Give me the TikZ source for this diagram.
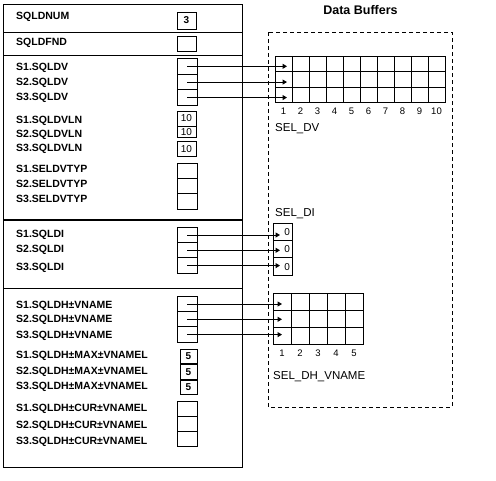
\documentclass[tikz,border=0pt]{standalone}
\usepackage{fontspec}
\setmainfont{Liberation Sans}
\usepackage{tikz}
\usetikzlibrary{positioning, arrows.meta}
\tikzstyle{lbl}=[%
      anchor=west, inner sep=0pt, text height=7.5pt, text depth=0pt,
      font=\fontsize{10.5}{12}\selectfont\bfseries
]
\tikzstyle{cell}=[%
      rectangle, draw=black, line width=1pt, fill=none, outer sep=0pt,
      minimum height=15.3pt, minimum width=20pt, inner sep=0pt,
      font=\fontsize{10}{12}\selectfont
]
\tikzstyle{bufcell}=[%
      rectangle, draw=black, line width=1pt, fill=none, outer sep=0pt,
      minimum height=15.6pt, minimum width=17pt, inner sep=0pt,
      font=\fontsize{10}{12}\selectfont
]
\tikzstyle{idx}=[%
      inner sep=0pt, text height=7pt, text depth=0pt,
      font=\fontsize{9.5}{11}\selectfont
]
\tikzstyle{bufname}=[%
      anchor=west, inner sep=0pt, text height=8pt, text depth=0pt,
      font=\fontsize{11.5}{13}\selectfont
]
\tikzstyle{ptr}=[%
      ->, line width=1pt
]

\begin{document}
\begin{tikzpicture}[x=1pt, y=-1pt,
    >={Triangle[length=4.5pt,width=5pt]}
  ]
    \useasboundingbox (0,0) rectangle (496,480);

    % SQLDA descriptor
    \draw[line width=1pt] (3,4) rectangle (242,467);
    \draw[line width=1pt] (3,32) -- (242,32);
    \draw[line width=1pt] (3,55) -- (242,55);
    \draw[line width=2pt] (3,220) -- (242,220);
    \draw[line width=1pt] (3,288) -- (242,288);

    \node[lbl] (sqldnum) at (16,15.5) {SQLDNUM};
    \node[lbl] (sqldfnd) at (16,41.7) {SQLDFND};
    \foreach \s/\y in {1/66.7, 2/81.7, 3/96.7}
      \node[lbl] (sqldv\s) at (16,\y) {S\s.SQLDV};
    \foreach \s/\y in {1/119.3, 2/133.3, 3/147.7}
      \node[lbl] (sqldvln\s) at (16,\y) {S\s.SQLDVLN};
    \foreach \s/\y in {1/169, 2/183.3, 3/199}
      \node[lbl] (seldvtyp\s) at (16,\y) {S\s.SELDVTYP};
    \foreach \s/\y in {1/233.3, 2/249, 3/266.5}
      \node[lbl] (sqldi\s) at (16,\y) {S\s.SQLDI};
    \foreach \s/\y in {1/304.3, 2/318.3, 3/334.3}
      \node[lbl] (vname\s) at (16,\y) {S\s.SQLDH±VNAME};
    \foreach \s/\y in {1/355, 2/370.5, 3/386}
      \node[lbl] (maxvnamel\s) at (16,\y) {S\s.SQLDH±MAX±VNAMEL};
    \foreach \s/\y in {1/408, 2/424.5, 3/441}
      \node[lbl] (curvnamel\s) at (16,\y) {S\s.SQLDH±CUR±VNAMEL};

    \node[cell, minimum width=19pt, minimum height=17pt, font=\fontsize{10}{12}\selectfont\bfseries] (num) at (186.5,20.5) {3};
    \node[cell, minimum width=19pt, minimum height=15.5pt] (fnd) at (186.5,44) {};

    \node[cell, minimum height=16pt] (dv1) at (187,66.3) {};
    \node[cell, minimum height=15.5pt] (dv2) [below = 0pt of dv1] {};
    \node[cell, minimum height=15.5pt] (dv3) [below = 0pt of dv2] {};

    \node[cell, minimum width=19pt, minimum height=15pt] (dvln1) at (186.5,118.5) {10};
    \node[cell, minimum width=19pt, minimum height=11.5pt] (dvln2) [below = 0pt of dvln1] {10};
    \node[cell, minimum width=19pt, minimum height=14.5pt] (dvln3) [below = 4pt of dvln2] {10};

    \node[cell] (typ1) at (187,171) {};
    \node[cell] (typ2) [below = 0pt of typ1] {};
    \node[cell] (typ3) [below = 0pt of typ2] {};

    \node[cell] (di1) at (187,235) {};
    \node[cell] (di2) [below = 0pt of di1] {};
    \node[cell] (di3) [below = 0pt of di2] {};

    \node[cell] (vn1) at (187,304) {};
    \node[cell] (vn2) [below = 0pt of vn1] {};
    \node[cell] (vn3) [below = 0pt of vn2] {};

    \node[cell, minimum width=17pt, minimum height=14.5pt, font=\fontsize{10}{12}\selectfont\bfseries] (max1) at (188.5,356.5) {5};
    \node[cell, minimum width=17pt, minimum height=14.5pt, font=\fontsize{10}{12}\selectfont\bfseries] (max2) [below = 1pt of max1] {5};
    \node[cell, minimum width=17pt, minimum height=14.5pt, font=\fontsize{10}{12}\selectfont\bfseries] (max3) [below = 1pt of max2] {5};

    \node[cell, minimum height=15pt] (cur1) at (187,408.5) {};
    \node[cell, minimum height=15pt] (cur2) [below = 0pt of cur1] {};
    \node[cell, minimum height=15pt] (cur3) [below = 0pt of cur2] {};

    % data buffers
    \node[font=\fontsize{12.5}{14}\selectfont\bfseries, inner sep=0pt] (title) at (360.5,10) {Data Buffers};
    \draw[line width=1pt, dash pattern=on 4pt off 3pt] (268,32) rectangle (452,407);

    \foreach \r in {1,2,3}
      \foreach \c in {1,...,10}
        \node[bufcell] (seldv\r-\c) at ({266.5+17*\c}, {48.2+15.6*\r}) {};
    \foreach \c in {1,...,10}
      \node[idx] (dvidx\c) [below = 4pt of seldv3-\c] {\c};
    \node[bufname] (seldvname) at (275,127) {SEL\_DV};

    \node[bufname] (seldiname) at (275,212) {SEL\_DI};
    \node[bufcell, minimum width=19pt, minimum height=17.3pt, text width=15pt, align=right] (seldi1) at (282.5,232) {0};
    \node[bufcell, minimum width=19pt, minimum height=17.3pt, text width=15pt, align=right] (seldi2) [below = 0pt of seldi1] {0};
    \node[bufcell, minimum width=19pt, minimum height=17.3pt, text width=15pt, align=right] (seldi3) [below = 0pt of seldi2] {0};

    \foreach \r in {1,2,3}
      \foreach \c in {1,...,5}
        \node[bufcell, minimum width=18pt, minimum height=16.7pt] (seldh\r-\c) at ({264+18*\c}, {285.6+16.7*\r}) {};
    \foreach \c in {1,...,5}
      \node[idx] (dhidx\c) [below = 5pt of seldh3-\c] {\c};
    \node[bufname] (seldhname) at (273,375) {SEL\_DH\_VNAME};

    % pointers
    \foreach \s in {1,2,3}
      \draw[ptr, shorten >=-3.5pt] (dv\s.center) -- (dv\s.center -| seldv\s-1.center);
    \foreach \s in {1,2,3}
      \draw[ptr, shorten >=2.5pt] (di\s.center) -- (di\s.center -| seldi\s.center);
    \foreach \s in {1,2,3}
      \draw[ptr] (vn\s.center) -- (vn\s.center -| seldh\s-1.center);

  \end{tikzpicture}
\end{document}
